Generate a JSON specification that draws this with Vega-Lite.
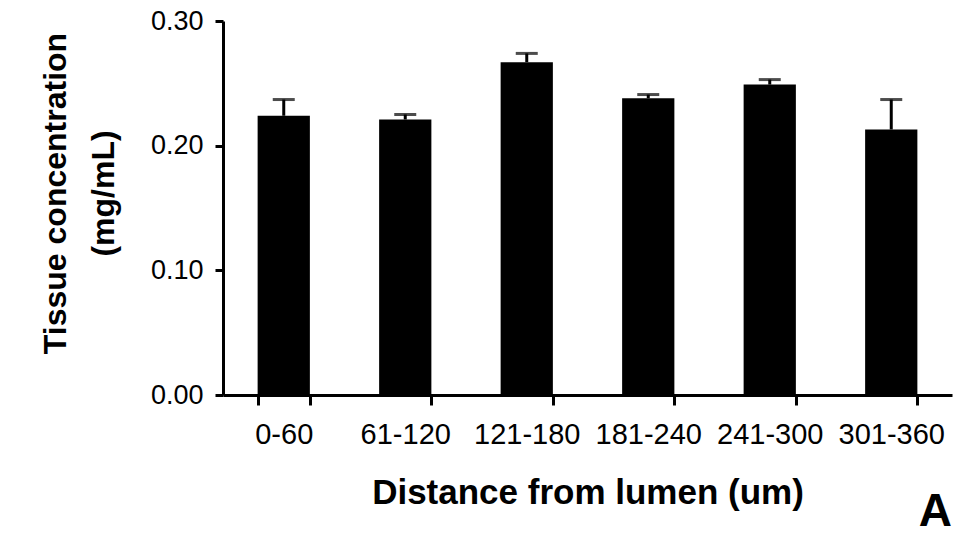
{
  "$schema": "https://vega.github.io/schema/vega-lite/v6.json",
  "autosize": {"type": "none"},
  "width": 729,
  "height": 374,
  "padding": {"left": 223, "top": 21, "right": 15, "bottom": 141},
  "background": "white",
  "title": {
    "text": "A",
    "orient": "bottom",
    "anchor": "end",
    "fontSize": 46,
    "fontWeight": "bold",
    "font": "Liberation Sans",
    "color": "black",
    "offset": -20
  },
  "data": {
    "values": [
      {"distance": "0-60", "mean": 0.224, "upper": 0.237},
      {"distance": "61-120", "mean": 0.221, "upper": 0.225},
      {"distance": "121-180", "mean": 0.267, "upper": 0.274},
      {"distance": "181-240", "mean": 0.238, "upper": 0.241},
      {"distance": "241-300", "mean": 0.249, "upper": 0.253},
      {"distance": "301-360", "mean": 0.213, "upper": 0.237}
    ]
  },
  "encoding": {
    "x": {
      "field": "distance",
      "type": "nominal",
      "sort": null,
      "scale": {"paddingInner": 0.57, "paddingOuter": 0.285},
      "axis": {
        "title": "Distance from lumen (um)",
        "titleFont": "Liberation Sans",
        "titleFontSize": 35,
        "titleFontWeight": "bold",
        "titleColor": "black",
        "titlePadding": 26,
        "labelFont": "Liberation Sans",
        "labelFontSize": 29,
        "labelColor": "black",
        "labelAngle": 0,
        "labelPadding": 15,
        "tickBand": "extent",
        "tickSize": 10,
        "tickWidth": 3,
        "tickColor": "black",
        "domainWidth": 3,
        "domainColor": "black",
        "grid": false
      }
    }
  },
  "layer": [
    {
      "mark": {"type": "bar", "color": "black"},
      "encoding": {
        "y": {
          "field": "mean",
          "type": "quantitative",
          "scale": {"domain": [0, 0.3], "nice": false},
          "axis": {
            "title": ["Tissue concentration", "(mg/mL)"],
            "titleFont": "Liberation Sans",
            "titleFontSize": 32,
            "titleFontWeight": "bold",
            "titleColor": "black",
            "titleLineHeight": 48,
            "titlePadding": 30,
            "titleY": 172,
            "labelFont": "Liberation Sans",
            "labelFontSize": 27,
            "labelColor": "black",
            "labelPadding": 12,
            "values": [0, 0.1, 0.2, 0.3],
            "format": ".2f",
            "tickSize": 8,
            "tickWidth": 3,
            "tickColor": "black",
            "domainWidth": 3,
            "domainColor": "black",
            "grid": false
          }
        }
      }
    },
    {
      "mark": {"type": "rule", "color": "black", "strokeWidth": 3},
      "encoding": {
        "y": {"field": "mean", "type": "quantitative"},
        "y2": {"field": "upper"}
      }
    },
    {
      "mark": {"type": "tick", "color": "black", "thickness": 3, "size": 22},
      "encoding": {
        "y": {"field": "upper", "type": "quantitative"}
      }
    }
  ],
  "config": {"view": {"stroke": null}}
}
